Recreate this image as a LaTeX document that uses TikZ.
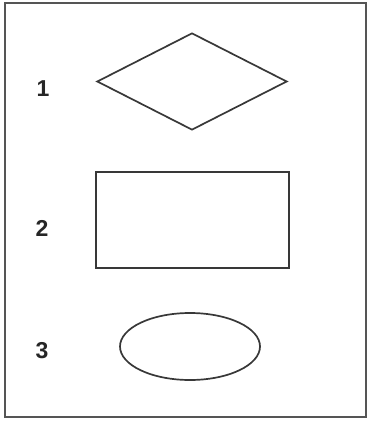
\documentclass[tikz,border=0pt]{standalone}
\usepackage{fontspec}
\setmainfont{Liberation Sans}
\usetikzlibrary{shapes.geometric}
\definecolor{edge}{HTML}{383838}
\definecolor{framec}{HTML}{555555}
\begin{document}
\begin{tikzpicture}[x=1pt,y=-1pt,
  shapeline/.style={draw=edge,line width=1.7pt},
  numlabel/.style={font=\fontsize{23}{23}\selectfont\bfseries,text=black!85,inner sep=0pt,anchor=center}]
\useasboundingbox (0,0) rectangle (368,422);
\fill[white] (0,0) rectangle (368,422);
\node[draw=framec,line width=2.2pt,minimum width=361pt,minimum height=414pt,inner sep=0pt] (frame) at (185.5,210) {};
\node[shapeline,diamond,minimum width=190pt,minimum height=97pt,inner sep=0pt] (d1) at (192,81.5) {};
\node[shapeline,rectangle,minimum width=193pt,minimum height=96pt,inner sep=0pt] (r2) at (192.5,220) {};
\node[shapeline,ellipse,minimum width=140pt,minimum height=67pt,inner sep=0pt] (e3) at (190,346.5) {};
\node[numlabel] (l1) at (43,89) {1};
\node[numlabel] (l2) at (42,228) {2};
\node[numlabel] (l3) at (42,351) {3};
\end{tikzpicture}
\end{document}
